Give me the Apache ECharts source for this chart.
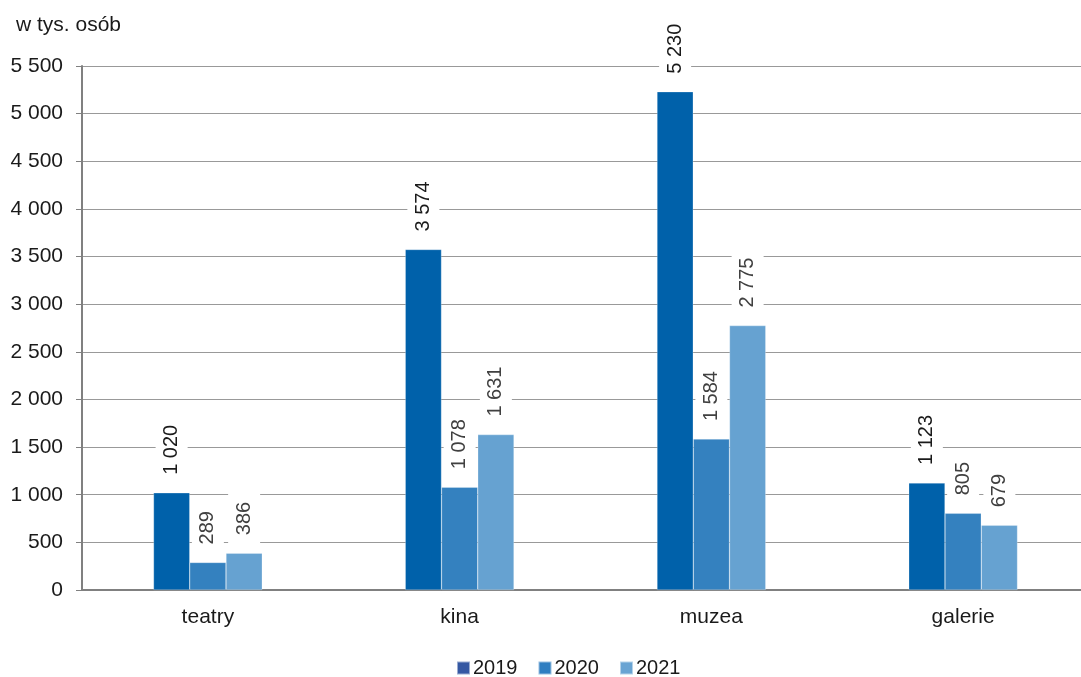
<!DOCTYPE html>
<html><head><meta charset="utf-8">
<script src="https://cdn.jsdelivr.net/npm/echarts@6/dist/echarts.min.js"></script>
<style>html,body{margin:0;padding:0;background:#fff}#c{width:1081px;height:677px}</style>
</head><body><div id="c"></div>
<script>
const categories = ['teatry', 'kina', 'muzea', 'galerie'];
const seriesNames = ['2019', '2020', '2021'];
const v2019 = [1020, 3574, 5230, 1123];
const v2020 = [289, 1078, 1584, 805];
const v2021 = [386, 1631, 2775, 679];
const barColors = ['#0061AA', '#3481BF', '#66A2D1'];
const legendColors = ['#3558A3', '#2F7EC1', '#69A4D3'];
const labelColors = ['#1a1a1a', '#404040', '#404040'];

const fmt = v => String(v).replace(/\B(?=(\d{3})+(?!\d))/g, ' ');
const font = 'Liberation Sans, Arial, sans-serif';
const values = [v2019, v2020, v2021];

const chart = echarts.init(document.getElementById('c'));
chart.setOption({
  animation: false,
  textStyle: { fontFamily: font },
  title: { text: 'w tys. osób', left: 11, top: 10, textStyle: { fontSize: 21, fontWeight: 'normal', color: '#1a1a1a', fontFamily: font } },
  grid: { left: 82, width: 1007, top: 66, bottom: 87, outerBoundsMode: 'none', containLabel: false },
  legend: {
    top: 653, left: 451, itemWidth: 13, itemHeight: 13, itemGap: 20, icon: 'rect',
    textStyle: { fontSize: 20, color: '#1a1a1a', fontFamily: font, padding: [0, 0, 0, -2] },
    data: seriesNames.map((n, i) => ({ name: n, itemStyle: { color: legendColors[i] } }))
  },
  xAxis: {
    type: 'category', data: categories,
    axisLine: { lineStyle: { color: '#808080', width: 2 } },
    axisTick: { show: false },
    axisLabel: { fontSize: 21, color: '#1a1a1a', margin: 17, fontFamily: font }
  },
  yAxis: {
    type: 'value', min: 0, max: 5500, interval: 500,
    axisLine: { show: true, lineStyle: { color: '#808080', width: 2 } },
    axisTick: { show: true, length: 6, lineStyle: { color: '#808080', width: 1 } },
    splitLine: { lineStyle: { color: '#999999', width: 1 } },
    axisLabel: { fontSize: 21, color: '#1a1a1a', margin: 19, formatter: fmt, fontFamily: font }
  },
  series: seriesNames.map((n, i) => ({
    name: n, type: 'bar', data: values[i],
    barGap: '0%', barCategoryGap: '56.8%',
    itemStyle: { color: barColors[i], borderColor: 'rgba(255,255,255,0.5)', borderWidth: 0.5 },
    label: {
      show: true, position: 'top', rotate: 90, align: 'left', verticalAlign: 'middle',
      distance: 10, formatter: p => fmt(p.value), fontSize: 20, color: labelColors[i],
      fontFamily: font, backgroundColor: '#fff', padding: [6, 8, 6, 8]
    }
  }))
});
</script></body></html>
